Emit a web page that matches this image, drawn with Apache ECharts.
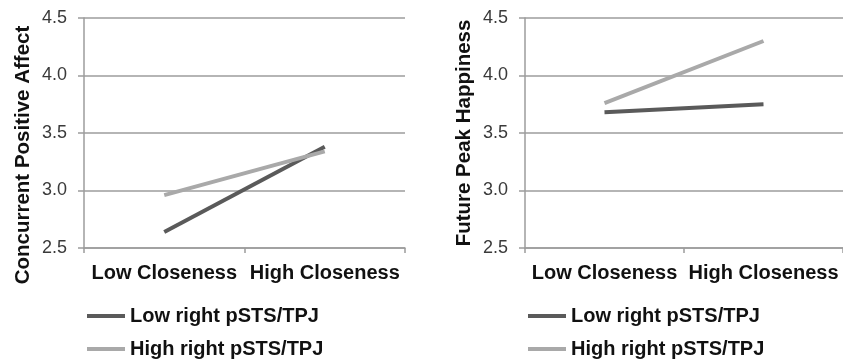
<!DOCTYPE html>
<html>
<head>
<meta charset="utf-8">
<script src="https://cdn.jsdelivr.net/npm/echarts@6/dist/echarts.min.js"></script>
<style>
html,body{margin:0;padding:0;background:#fff;}
#c{width:843px;height:362px;}
</style>
</head>
<body>
<div id="c"></div>
<script>
const categories = ['Low Closeness', 'High Closeness'];
const seriesNames = ['Low right pSTS/TPJ', 'High right pSTS/TPJ'];
const affectLow = [2.64, 3.38];
const affectHigh = [2.96, 3.34];
const happyLow = [3.68, 3.75];
const happyHigh = [3.76, 4.30];
const yTicks = [2.5, 3.0, 3.5, 4.0, 4.5];
const yTitles = ['Concurrent Positive Affect', 'Future Peak Happiness'];

const FONT = '"Liberation Sans", Arial, sans-serif';
const DARK = '#5a5a5a';
const LIGHT = '#a9a9a9';
const GRID = '#9c9c9c';

function xAxis(gi) {
  return {
    type: 'category', gridIndex: gi, data: categories, boundaryGap: true,
    axisLine: {show: true, lineStyle: {color: GRID, width: 1.5}},
    axisTick: {show: true, length: 5, alignWithLabel: false, lineStyle: {color: GRID, width: 1.5}},
    axisLabel: {interval: 0, margin: 15, color: '#111', fontFamily: FONT, fontWeight: 'bold', fontSize: 20}
  };
}
function yAxis(gi, pad) {
  return {
    type: 'value', gridIndex: gi, min: yTicks[0], max: yTicks[yTicks.length - 1], interval: 0.5,
    name: yTitles[gi], nameLocation: 'middle', nameGap: 50,
    nameTextStyle: {color: '#111', fontFamily: FONT, fontWeight: 'bold', fontSize: 20.5, padding: pad},
    axisLine: {show: true, lineStyle: {color: GRID, width: 1.5}},
    axisTick: {show: true, length: 6, lineStyle: {color: GRID, width: 1.5}},
    splitLine: {show: true, lineStyle: {color: GRID, width: 1.5}},
    axisLabel: {margin: 17, color: '#3a3a3a', fontFamily: FONT, fontSize: 18, formatter: v => v.toFixed(1)}
  };
}
function line(name, gi, data, color) {
  return {
    type: 'line', name: name, xAxisIndex: gi, yAxisIndex: gi, data: data,
    symbol: 'none', lineStyle: {color: color, width: 4}, itemStyle: {color: color}, animation: false
  };
}
function legend(left) {
  return {
    left: left, top: 301, height: 120, orient: 'vertical', icon: 'rect', itemWidth: 38, itemHeight: 4, itemGap: 13,
    data: seriesNames,
    textStyle: {color: '#111', fontFamily: FONT, fontWeight: 'bold', fontSize: 20, lineHeight: 20}
  };
}

const chart = echarts.init(document.getElementById('c'), null, {renderer: 'canvas'});
chart.setOption({
  backgroundColor: '#fff',
  animation: false,
  grid: [
    {left: 84, top: 18, width: 321, height: 230},
    {left: 525, top: 18, width: 320, height: 230}
  ],
  xAxis: [xAxis(0), xAxis(1)],
  yAxis: [yAxis(0, [0, 44, 0, 0]), yAxis(1, 0)],
  legend: [legend(82), legend(523)],
  series: [
    line(seriesNames[0], 0, affectLow, DARK),
    line(seriesNames[1], 0, affectHigh, LIGHT),
    line(seriesNames[0], 1, happyLow, DARK),
    line(seriesNames[1], 1, happyHigh, LIGHT)
  ]
});
</script>
</body>
</html>
